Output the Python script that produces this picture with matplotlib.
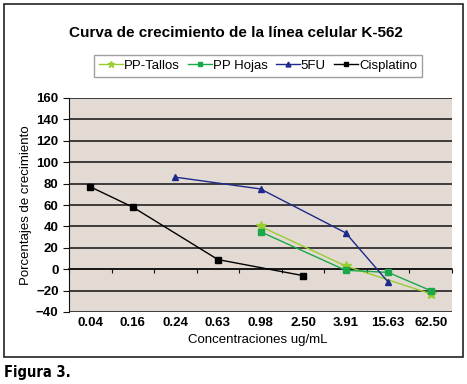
import numpy as np
import matplotlib
matplotlib.use("Agg")
import matplotlib.pyplot as plt
from matplotlib.patches import Rectangle
import matplotlib.transforms as mtransforms

plt.rcParams['font.family'] = ['Liberation Sans', 'DejaVu Sans']

categories = ["0.04", "0.16", "0.24", "0.63", "0.98", "2.50", "3.91", "15.63", "62.50"]
nan = np.nan
pp_tallos = [nan, nan, nan, nan, 40, nan, 3, nan, -23]
pp_hojas = [nan, nan, nan, nan, 35, nan, -1, -3, -20]
fu5 = [nan, nan, 86, nan, 75, nan, 34, -12, nan]
cisplatino = [77, 58, nan, 9, nan, -6, nan, nan, nan]

series = [
    ("PP-Tallos", pp_tallos, "#9acd32", "*", 7),
    ("PP Hojas", pp_hojas, "#1aa84a", "s", 5),
    ("5FU", fu5, "#1c2a8c", "^", 5),
    ("Cisplatino", cisplatino, "#000000", "s", 5),
]

fig = plt.figure(figsize=(4.67, 3.84), dpi=100)
fig.patches.append(Rectangle((4 / 467, 1 - 357 / 384), 459 / 467, 353 / 384,
                             transform=fig.transFigure, fill=False,
                             edgecolor="#222222", linewidth=1.2))

ax = fig.add_axes([69 / 467, 1 - 312 / 384, 383 / 467, 214 / 384])
ax.set_facecolor("#e3dbd3")

x = np.arange(len(categories)) + 0.5
handles = []
for name, vals, color, marker, ms in series:
    v = np.array(vals, dtype=float)
    m = ~np.isnan(v)
    h, = ax.plot(x[m], v[m], color=color, marker=marker, markersize=ms,
                 linewidth=1.0, label=name, zorder=3)
    handles.append(h)

ax.set_xlim(0, len(categories))
ax.set_ylim(-40, 160)
ax.set_yticks(np.arange(-40, 161, 20))
ax.yaxis.grid(True, color="#111111", linewidth=1.1)
ax.set_axisbelow(True)

for s in ["top", "right"]:
    ax.spines[s].set_visible(False)
ax.spines["left"].set_color("#111111")
ax.spines["bottom"].set_position(("data", 0))
ax.spines["bottom"].set_color("#111111")
ax.spines["bottom"].set_linewidth(1.1)

ax.set_xticks(np.arange(0, len(categories) + 1))
ax.tick_params(axis="x", direction="out", length=3, labelbottom=False, color="#111111")
ax.tick_params(axis="y", direction="out", length=4, labelsize=9.5, color="#111111")
for lab in ax.get_yticklabels():
    lab.set_fontweight("bold")

trans = mtransforms.blended_transform_factory(ax.transData, ax.transAxes)
for xi, c in zip(x, categories):
    ax.text(xi, -0.05, c, transform=trans, ha="center", va="center",
            fontsize=9.5, fontweight="bold")

ax.set_ylabel("Porcentajes de crecimiento", fontsize=9.5, labelpad=3)
fig.text(258 / 467, 1 - 340 / 384, "Concentraciones ug/mL", ha="center", va="center",
         fontsize=9.5)
fig.text(236 / 467, 1 - 33 / 384, "Curva de crecimiento de la línea celular K-562",
         ha="center", va="center", fontsize=11, fontweight="bold")

leg = fig.legend(handles=handles, loc="center", bbox_to_anchor=(258 / 467, 1 - 66 / 384),
                 ncol=4, frameon=True, fancybox=False, fontsize=9.5,
                 handlelength=1.8, handletextpad=0.1, columnspacing=0.6,
                 borderpad=0.35, borderaxespad=0, markerscale=0.7,
                 edgecolor="#888888")
leg.get_frame().set_linewidth(1.0)

fig.text(4 / 467, 1 - 373 / 384, "Figura 3.", ha="left", va="center", fontsize=10.5,
         fontweight="bold", fontstretch="condensed",
         family=["DejaVu Sans", "Liberation Sans"])

fig.savefig("out.png", dpi=100)
